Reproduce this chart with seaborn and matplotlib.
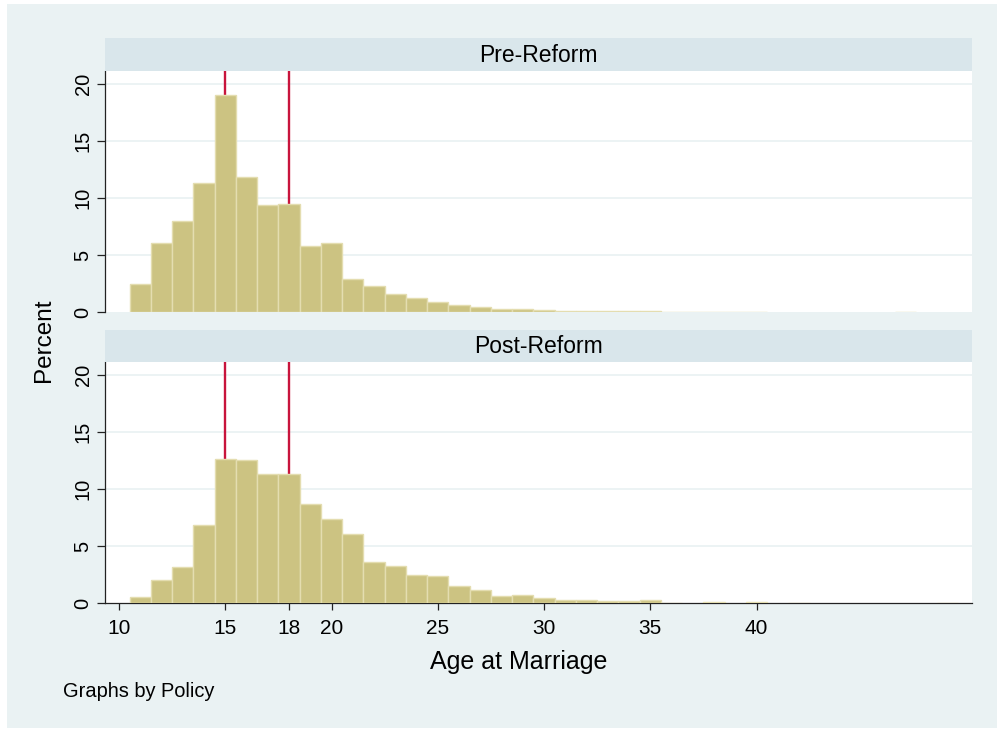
import numpy as np
import pandas as pd
import matplotlib
matplotlib.use("Agg")
import matplotlib.pyplot as plt
from matplotlib.patches import Rectangle
import seaborn as sns

# ---------------- data ----------------
ages = list(range(11, 51))
pre_reform = [2.45, 6.06, 7.96, 11.34, 19.01, 11.87, 9.39, 9.48, 5.83, 6.09,
              2.89, 2.30, 1.60, 1.22, 0.90, 0.68, 0.45, 0.32, 0.27, 0.17,
              0.10, 0.10, 0.09, 0.09, 0.09, 0.04, 0.04, 0.04, 0.04, 0.04,
              0, 0, 0, 0, 0, 0, 0.04, 0, 0, 0]
post_reform = [0.52, 2.04, 3.15, 6.87, 12.59, 12.55, 11.28, 11.28, 8.71, 7.34,
               6.03, 3.64, 3.29, 2.48, 2.36, 1.51, 1.15, 0.64, 0.73, 0.44,
               0.29, 0.29, 0.20, 0.20, 0.26, 0.06, 0, 0.07, 0, 0.09,
               0, 0.06, 0, 0, 0, 0, 0, 0, 0.05, 0]
panel_titles = ["Pre-Reform", "Post-Reform"]
ref_lines = [15, 18]
x_ticks = [10, 15, 18, 20, 25, 30, 35, 40]
y_ticks = [0, 5, 10, 15, 20]
bin_edges = [10.5 + k for k in range(41)]

# ---------------- style ----------------
sns.set_theme(style="white")
plt.rcParams["font.family"] = ["Liberation Sans", "DejaVu Sans"]

BG = "#EAF2F3"
STRIP = "#D9E6EB"
GRID = "#EAF2F3"
FILL = "#CCC382"
EDGE = "#E4DDB0"
RED = "#C8143C"

W, H = 997, 729
fig = plt.figure(figsize=(W / 100, H / 100), dpi=100, facecolor="white")
fig.patches.append(Rectangle((7 / W, 1 / H), 1 - 7 / W, (725 - 1) / H,
                             transform=fig.transFigure, facecolor=BG,
                             edgecolor="none", zorder=-10))

left, right = 105 / W, 972 / W
panels = [
    dict(title=panel_titles[0], top=71, bottom=312.3, strip_top=38),
    dict(title=panel_titles[1], top=362, bottom=603.3, strip_top=330),
]

df = pd.DataFrame({
    "age": ages * 2,
    "pct": pre_reform + post_reform,
    "policy": [panel_titles[0]] * len(ages) + [panel_titles[1]] * len(ages),
})

for i, p in enumerate(panels):
    ax = fig.add_axes([left, 1 - p["bottom"] / H, right - left,
                       (p["bottom"] - p["top"]) / H])
    ax.set_facecolor("white")
    sub = df[df["policy"] == p["title"]].reset_index(drop=True)
    sns.histplot(data=sub, x="age", weights="pct", bins=bin_edges, ax=ax,
                 color=FILL, edgecolor=EDGE, linewidth=1.0, alpha=1, zorder=3)
    for patch in ax.patches:
        if patch.get_height() <= 0:
            patch.set_visible(False)
    for r in ref_lines:
        ax.axvline(r, color=RED, linewidth=1.7, zorder=2)
    ax.set_xlim(9.34, 50.14)
    ax.set_ylim(0, 21.1)
    ax.set_yticks(y_ticks)
    ax.set_yticklabels([str(t) for t in y_ticks])
    ax.grid(False)
    for t in y_ticks[1:]:
        ax.axhline(t, color=GRID, linewidth=1.3, zorder=1)
    ax.set_xlabel("")
    ax.set_ylabel("")
    for s in ["top", "right"]:
        ax.spines[s].set_visible(False)
    ax.spines["left"].set_color("#222222")
    ax.spines["left"].set_linewidth(0.9)
    ax.tick_params(axis="y", which="both", left=True, length=6, width=0.9,
                   color="#222222", labelcolor="black", labelsize=14.5, pad=3,
                   labelrotation=90)
    for lab in ax.get_yticklabels():
        lab.set_va("center")
    if i == 0:
        ax.spines["bottom"].set_visible(False)
        ax.set_xticks([])
    else:
        ax.spines["bottom"].set_color("#222222")
        ax.spines["bottom"].set_linewidth(0.9)
        ax.set_xticks(x_ticks)
        ax.set_xticklabels([str(t) for t in x_ticks])
        ax.tick_params(axis="x", which="both", bottom=True, length=5, width=0.9,
                       color="#222222", labelcolor="black", labelsize=15, pad=6.5)

    # strip
    sax = fig.add_axes([left, 1 - p["top"] / H, right - left,
                        (p["top"] - p["strip_top"]) / H])
    sax.set_facecolor(STRIP)
    sax.set_xticks([])
    sax.set_yticks([])
    for s in sax.spines.values():
        s.set_visible(False)
    sax.text(0.5, 0.47, p["title"], ha="center", va="center", fontsize=16.5,
             color="black", transform=sax.transAxes)

fig.text(44 / W, 1 - 340 / H, "Percent", rotation=90, ha="center", va="center",
         fontsize=17.5, color="black")
fig.text(519 / W, 1 - 662 / H, "Age at Marriage", ha="center", va="center",
         fontsize=18, color="black")
fig.text(63 / W, 1 - 697 / H, "Graphs by Policy", ha="left", va="baseline",
         fontsize=14.4, color="black")

fig.savefig("out.png", dpi=100, facecolor="white")
